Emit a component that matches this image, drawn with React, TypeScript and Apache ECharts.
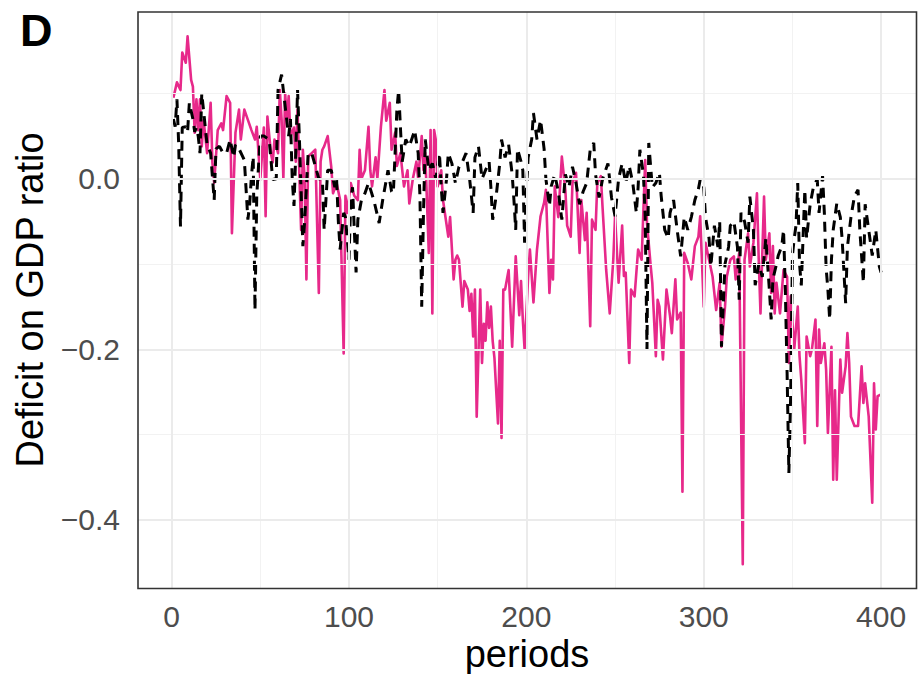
import React, { useEffect, useRef } from "react";
import * as echarts from "echarts";

// ---- data ----
const xTicks = [0, 100, 200, 300, 400];
const xMinor = [50, 150, 250, 350];
const yTicks = [-0.4, -0.2, 0];
const yMinor = [-0.3, -0.1, 0.1];

const pinkPeriods = [
  1, 3, 5, 6, 8, 9, 11, 12, 13, 14,
  15, 16, 17, 18, 20, 22, 23, 24, 26, 28,
  29, 31, 33, 34, 36, 38, 39, 41, 43, 45,
  47, 48, 50, 52, 53, 54, 56, 57, 58, 60,
  61, 62, 63, 64, 65, 66, 67, 69, 70, 71,
  72, 73, 74, 75, 76, 77, 79, 81, 83, 84,
  85, 86, 88, 90, 91, 93, 95, 97, 98, 99,
  101, 103, 105, 106, 107, 109, 111, 112, 113, 115,
  116, 118, 120, 121, 123, 124, 126, 127, 129, 131,
  133, 134, 136, 138, 139, 141, 142, 143, 145, 146,
  147, 148, 149, 150, 152, 153, 156, 157, 159, 160,
  161, 162, 164, 165, 167, 168, 169, 170, 171, 172,
  174, 175, 176, 177, 178, 179, 180, 181, 182, 184,
  185, 186, 187, 188, 190, 192, 194, 196, 197, 198,
  199, 201, 202, 204, 206, 208, 210, 211, 213, 214,
  215, 216, 218, 220, 222, 223, 225, 226, 228, 230,
  231, 233, 234, 236, 237, 239, 240, 242, 243, 245,
  247, 249, 250, 252, 254, 255, 256, 258, 259, 261,
  263, 265, 267, 268, 270, 271, 273, 274, 275, 277,
  279, 281, 282, 284, 285, 287, 288, 289, 291, 293,
  295, 297, 298, 300, 301, 303, 305, 307, 309, 310,
  312, 313, 315, 317, 318, 320, 322, 323, 325, 326,
  328, 330, 331, 332, 334, 335, 337, 338, 339, 340,
  341, 343, 345, 347, 348, 349, 351, 353, 354, 355,
  357, 358, 360, 361, 363, 364, 365, 366, 368, 369,
  370, 372, 373, 374, 375, 377, 378, 380, 381, 382,
  383, 385, 387, 389, 390, 391, 393, 395, 396, 397,
  398, 400,
];
const pinkValues = [
  0.095, 0.113, 0.104, 0.148, 0.136, 0.167, 0.116, 0.108, 0.054, 0.093,
  0.057, 0.093, 0.038, 0.069, 0.03, 0.089, 0.019, -0.005, 0.057, 0.065,
  0.057, 0.097, 0.089, -0.064, 0.054, 0.081, 0.046, 0.081, 0.069, 0.057,
  0.046, 0.061, -0.001, 0.06, -0.044, 0.073, 0.03, 0.019, 0.046, 0.03,
  0.104, 0.07, 0.0, 0.1, 0.07, 0.097, 0.05, 0.06, 0.02, 0.081,
  0.007, -0.06, 0.034, 0.0, -0.118, 0.026, 0.03, 0.034, -0.134, 0.02,
  0.034, 0.038, 0.05, 0.014, -0.017, -0.005, -0.025, -0.205, -0.02, -0.04,
  -0.005, -0.02, -0.025, 0.034, 0.0, 0.01, 0.061, 0.01, -0.009, 0.025,
  0.0, 0.061, 0.104, 0.068, 0.089, 0.034, 0.054, 0.015, 0.03, -0.009,
  0.01, -0.029, 0.0, 0.02, 0.0, 0.05, 0.01, 0.03, -0.087, 0.057,
  -0.158, 0.057, 0.045, -0.009, 0.01, -0.025, -0.068, -0.045, -0.118, -0.095,
  -0.09, -0.095, -0.15, -0.12, -0.13, -0.155, -0.135, -0.185, -0.13, -0.279,
  -0.13, -0.216, -0.17, -0.19, -0.145, -0.175, -0.15, -0.19, -0.21, -0.287,
  -0.19, -0.304, -0.13, -0.13, -0.107, -0.197, -0.091, -0.16, -0.12, -0.165,
  -0.2, -0.115, -0.083, -0.145, -0.083, -0.044, -0.028, -0.013, -0.134, -0.095,
  -0.118, -0.009, -0.045, 0.026, -0.014, -0.055, -0.068, -0.005, 0.007, -0.087,
  -0.025, -0.072, -0.04, -0.173, -0.048, -0.06, -0.005, 0.003, -0.035, -0.107,
  -0.158, -0.095, -0.044, -0.122, -0.055, -0.114, -0.11, -0.216, -0.13, -0.138,
  -0.083, -0.095, 0.022, -0.052, -0.1, -0.122, -0.208, -0.142, -0.15, -0.212,
  -0.13, -0.161, -0.181, -0.118, -0.165, -0.157, -0.367, -0.087, -0.099, -0.118,
  -0.079, -0.068, -0.044, -0.15, -0.075, -0.095, -0.115, -0.154, -0.122, -0.197,
  -0.15, -0.115, -0.095, -0.091, -0.118, -0.087, -0.452, -0.095, -0.064, -0.103,
  -0.075, -0.017, -0.095, -0.158, -0.021, -0.095, -0.064, -0.134, -0.079, -0.158,
  -0.122, -0.158, -0.107, -0.115, -0.216, -0.138, -0.2, -0.15, -0.208, -0.236,
  -0.31, -0.185, -0.208, -0.2, -0.165, -0.29, -0.177, -0.216, -0.193, -0.224,
  -0.298, -0.197, -0.353, -0.248, -0.353, -0.212, -0.251, -0.22, -0.181, -0.216,
  -0.279, -0.29, -0.29, -0.22, -0.263, -0.24, -0.279, -0.38, -0.24, -0.294,
  -0.255, -0.253,
];

const blackPeriods = [
  1, 2, 3, 4, 5, 6, 8, 9, 10, 12,
  13, 14, 15, 16, 17, 18, 20, 22, 24, 25,
  27, 29, 31, 33, 35, 36, 38, 41, 43, 44,
  45, 46, 47, 48, 50, 52, 55, 57, 59, 60,
  62, 64, 66, 67, 68, 69, 70, 71, 72, 74,
  75, 77, 79, 81, 83, 85, 86, 88, 90, 92,
  93, 94, 95, 97, 98, 100, 101, 102, 104, 105,
  107, 109, 111, 114, 117, 119, 122, 124, 125, 126,
  127, 128, 129, 130, 132, 134, 136, 137, 139, 140,
  141, 142, 143, 145, 147, 149, 151, 152, 153, 155,
  156, 158, 160, 162, 164, 166, 168, 170, 171, 173,
  175, 177, 179, 180, 181, 183, 185, 186, 188, 190,
  192, 193, 194, 195, 197, 198, 199, 200, 201, 203,
  204, 206, 208, 210, 211, 213, 214, 216, 218, 220,
  222, 224, 226, 228, 230, 232, 234, 236, 238, 239,
  241, 243, 246, 248, 250, 252, 254, 256, 258, 260,
  262, 263, 264, 266, 267, 268, 269, 271, 273, 275,
  276, 278, 280, 281, 283, 285, 287, 289, 291, 293,
  295, 297, 298, 300, 301, 303, 304, 306, 308, 309,
  310, 312, 314, 315, 317, 319, 320, 321, 323, 325,
  326, 328, 329, 331, 333, 335, 337, 338, 339, 341,
  342, 344, 345, 346, 347, 348, 349, 350, 351, 352,
  353, 354, 355, 357, 358, 360, 362, 364, 365, 367,
  368, 369, 370, 371, 372, 373, 375, 377, 378, 380,
  381, 383, 385, 387, 388, 390, 391, 393, 395, 397,
  399, 400,
];
const blackValues = [
  0.07, 0.061, 0.093, 0.04, -0.056, 0.06, 0.061, 0.055, 0.089, 0.07,
  0.055, 0.06, 0.05, 0.03, 0.1, 0.08, 0.04, 0.03, -0.025, 0.035,
  0.038, 0.03, 0.03, 0.046, 0.025, 0.04, 0.035, 0.022, -0.048, -0.03,
  0.003, 0.026, -0.154, -0.02, 0.05, 0.05, 0.046, -0.001, 0.0, 0.104,
  0.122, 0.085, 0.05, 0.07, 0.0, -0.032, 0.03, 0.104, 0.05, -0.079,
  -0.05, 0.03, 0.03, 0.015, 0.0, -0.001, -0.06, 0.01, 0.01, -0.01,
  0.0, -0.05, -0.083, -0.04, -0.045, -0.095, -0.025, -0.01, -0.11, -0.048,
  -0.025, -0.017, -0.005, -0.025, -0.052, -0.025, 0.01, -0.015, -0.017, 0.03,
  0.081, 0.104, 0.06, 0.02, 0.046, 0.038, 0.05, 0.057, 0.03, -0.02,
  -0.15, -0.04, 0.046, 0.01, 0.018, 0.0, 0.03, -0.01, -0.04, 0.0,
  0.03, 0.018, -0.005, 0.014, 0.02, 0.03, 0.0, -0.04, 0.025, 0.038,
  0.0, 0.01, 0.02, -0.01, -0.048, -0.02, 0.018, 0.046, 0.025, 0.04,
  0.005, -0.025, -0.06, 0.035, 0.02, 0.01, -0.075, -0.015, 0.025, 0.046,
  0.077, 0.046, 0.069, 0.035, 0.0, -0.032, -0.009, 0.005, -0.015, -0.048,
  0.005, -0.01, 0.014, -0.005, -0.03, -0.015, -0.005, 0.034, 0.042, 0.005,
  -0.022, 0.0, 0.018, -0.022, -0.044, 0.0, 0.018, -0.005, 0.015, -0.005,
  -0.04, -0.01, 0.034, 0.005, -0.045, -0.2, 0.042, -0.01, -0.005, 0.007,
  -0.02, -0.06, -0.07, -0.04, -0.025, -0.06, -0.091, -0.045, -0.06, -0.045,
  -0.025, -0.012, -0.001, -0.01, -0.045, -0.07, -0.103, -0.055, -0.08, -0.05,
  -0.197, -0.1, -0.08, -0.055, -0.05, -0.08, -0.142, -0.04, -0.05, -0.075,
  -0.021, -0.06, -0.125, -0.1, -0.115, -0.07, -0.13, -0.165, -0.118, -0.1,
  -0.09, -0.079, -0.06, -0.13, -0.228, -0.345, -0.255, -0.09, -0.07, -0.055,
  -0.005, -0.1, -0.125, -0.013, -0.07, -0.03, -0.008, -0.001, -0.04, 0.003,
  -0.04, -0.105, -0.13, -0.165, -0.095, -0.06, -0.029, -0.045, -0.07, -0.146,
  -0.08, -0.045, -0.02, -0.013, -0.06, -0.122, -0.03, -0.06, -0.09, -0.06,
  -0.103, -0.11,
];

const FONT = "'Liberation Sans', Arial, Helvetica, sans-serif";

function fmtY(v: number): string {
  if (Math.abs(v) < 1e-9) return "0.0";
  return (v < 0 ? "\u2212" : "") + Math.abs(v).toFixed(1);
}

export default function App() {
  const ref = useRef<HTMLDivElement>(null);
  useEffect(() => {
    if (!ref.current) return;
    const chart = echarts.init(ref.current, undefined, { renderer: "svg" });
    const gridMajor = { color: "#EBEBEB", width: 2, type: "solid" };
    const gridMinor = { color: "#F2F2F2", width: 1, type: "solid" };
    const markData: any[] = [
      ...xMinor.map((v) => ({ xAxis: v, lineStyle: gridMinor })),
      ...yMinor.map((v) => ({ yAxis: v, lineStyle: gridMinor })),
      ...xTicks.map((v) => ({ xAxis: v, lineStyle: gridMajor })),
      ...yTicks.map((v) => ({ yAxis: v, lineStyle: gridMajor })),
    ];
    chart.setOption({
      animation: false,
      backgroundColor: "#ffffff",
      grid: {
        left: 138,
        top: 12,
        right: 1.5,
        bottom: 85.5,
        show: true,
        borderColor: "#333333",
        borderWidth: 1.6,
        backgroundColor: "transparent",
        z: 10,
      },
      xAxis: {
        type: "value",
        min: -18.95,
        max: 419.95,
        axisLine: { show: false },
        splitLine: { show: false },
        axisTick: {
          show: true,
          length: 9,
          customValues: xTicks,
          lineStyle: { color: "#333333", width: 2 },
        },
        axisLabel: {
          customValues: xTicks,
          margin: 13,
          fontSize: 30,
          color: "#4D4D4D",
          fontFamily: FONT,
        },
      },
      yAxis: {
        type: "value",
        min: -0.4805,
        max: 0.1955,
        axisLine: { show: false },
        splitLine: { show: false },
        axisTick: {
          show: true,
          length: 9,
          customValues: yTicks,
          lineStyle: { color: "#333333", width: 2 },
        },
        axisLabel: {
          customValues: yTicks,
          margin: 18,
          fontSize: 30,
          color: "#4D4D4D",
          fontFamily: FONT,
          formatter: (v: number) => fmtY(v),
        },
      },
      graphic: [
        {
          type: "text",
          left: 20,
          top: 8,
          style: { text: "D", font: `bold 45px ${FONT}`, fill: "#000" },
        },
        {
          type: "text",
          x: 527,
          y: 654,
          style: {
            text: "periods",
            font: `38px ${FONT}`,
            fill: "#000",
            align: "center",
            verticalAlign: "middle",
          },
        },
        {
          type: "text",
          x: 30,
          y: 300,
          rotation: Math.PI / 2,
          style: {
            text: "Deficit on GDP ratio",
            font: `38px ${FONT}`,
            fill: "#000",
            align: "center",
            verticalAlign: "middle",
          },
        },
      ],
      series: [
        {
          type: "line",
          name: "grid",
          data: [],
          silent: true,
          z: 1,
          markLine: {
            silent: true,
            symbol: "none",
            label: { show: false },
            animation: false,
            data: markData,
          },
        },
        {
          type: "line",
          name: "pink",
          data: pinkPeriods.map((p, i) => [p, pinkValues[i]]),
          showSymbol: false,
          z: 3,
          lineStyle: { color: "#E7298A", width: 2.6, join: "round" },
        },
        {
          type: "line",
          name: "black",
          data: blackPeriods.map((p, i) => [p, blackValues[i]]),
          showSymbol: false,
          z: 4,
          lineStyle: { color: "#000000", width: 3, type: [10, 7] },
        },
      ],
    });
    return () => chart.dispose();
  }, []);
  return (
    <div
      ref={ref}
      style={{ position: "absolute", left: 0, top: 0, width: 918, height: 674 }}
    />
  );
}
